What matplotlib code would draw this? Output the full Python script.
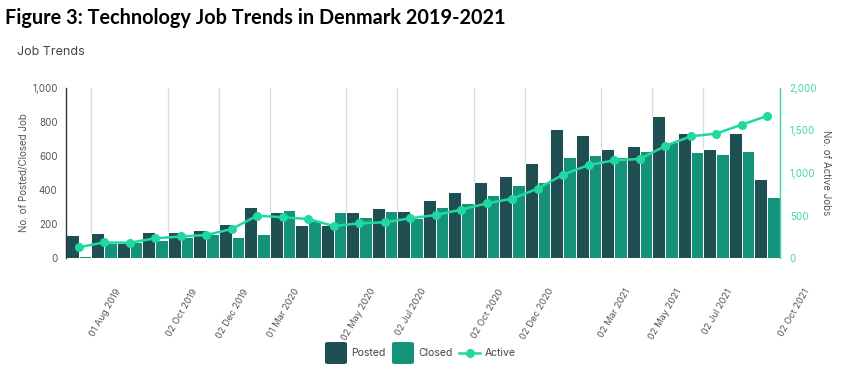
import matplotlib
matplotlib.use("Agg")
import matplotlib.pyplot as plt
from matplotlib.patches import FancyBboxPatch
from matplotlib.lines import Line2D
from matplotlib.transforms import ScaledTranslation
import numpy as np

# ---- data ----
posted = [138, 145, 87, 151, 151, 163, 198, 298, 268, 192, 192, 272, 292, 274,
          339, 386, 450, 483, 561, 761, 726, 643, 657, 833, 737, 641, 737, 463]
closed = [10, 90, 96, 108, 126, 143, 126, 144, 284, 219, 272, 241, 274, 236,
          300, 325, 368, 428, 445, 594, 606, 594, 629, 682, 626, 614, 629, 361]
active = [127, 183, 180, 232, 253, 271, 341, 498, 479, 459, 376, 408, 420, 467,
          506, 569, 643, 698, 816, 981, 1094, 1149, 1165, 1318, 1432, 1463, 1569, 1671]
tick_labels = ["01 Aug 2019", "02 Oct 2019", "02 Dec 2019", "01 Mar 2020",
               "02 May 2020", "02 Jul 2020", "02 Oct 2020", "02 Dec 2020",
               "02 Mar 2021", "02 May 2021", "02 Jul 2021", "02 Oct 2021"]
tick_band = [1, 4, 6, 8, 11, 13, 16, 18, 21, 23, 25, 28]

C_POST = "#1f4f52"
C_CLOSE = "#15937a"
C_ACT = "#20d8a0"
C_RAX = "#3dd6a8"
TXT = "#555555"
FONT = "Inter"

fig = plt.figure(figsize=(8.45, 3.74), dpi=100)
ax = fig.add_axes([66/845, 1-258/374, (780-66)/845, (258-88)/374])

x = np.arange(len(posted))
ax.bar(x - 0.25, posted, width=0.5, color=C_POST, edgecolor="white", linewidth=0.7, zorder=2)
ax.bar(x + 0.25, closed, width=0.5, color=C_CLOSE, edgecolor="white", linewidth=0.7, zorder=2)
ax.set_xlim(-0.5, len(posted) - 0.5)
ax.set_ylim(0, 1000)
ax.set_yticks([0, 200, 400, 600, 800, 1000])
ax.set_yticklabels(["0", "200", "400", "600", "800", "1,000"], fontsize=7, color=TXT, family=FONT)
ticks = [t - 0.5 for t in tick_band]
ax.set_xticks(ticks)
ax.set_xticklabels(tick_labels, rotation=60, ha="right", va="center",
                   rotation_mode="anchor", fontsize=6.7, color=TXT, family=FONT)
ax.tick_params(axis="x", length=0, pad=14)
off = ScaledTranslation(27/100, -12/100, fig.dpi_scale_trans)
for lab in ax.get_xticklabels():
    lab.set_transform(lab.get_transform() + off)
ax.tick_params(axis="y", length=0, pad=6)
ax.grid(axis="x", color="#dddddd", linewidth=1, zorder=0)
for s in ["top", "right", "bottom"]:
    ax.spines[s].set_visible(False)
ax.spines["left"].set_color("#333333")
ax.spines["left"].set_linewidth(1)
ax.set_ylabel("No. of Posted/Closed Job", fontsize=7, color=TXT, family=FONT, labelpad=2)

ax2 = ax.twinx()
ax2.plot(x, active, color=C_ACT, linewidth=1.8, marker="o", markersize=5.5, zorder=5)
ax2.set_ylim(0, 2000)
ax2.set_yticks([0, 500, 1000, 1500, 2000])
ax2.set_yticklabels(["0", "500", "1,000", "1,500", "2,000"], fontsize=7, color=C_RAX, family=FONT)
ax2.tick_params(axis="y", length=0, pad=7)
for s in ["top", "left", "bottom"]:
    ax2.spines[s].set_visible(False)
ax2.spines["right"].set_color(C_RAX)
ax2.spines["right"].set_linewidth(1)
ax2.set_ylabel("No. of Active Jobs", fontsize=7, color=TXT, family=FONT, rotation=-90, labelpad=10)

# titles
fig.text(5/845, 1-18/374, "Figure 3: Technology Job Trends in Denmark 2019-2021",
         fontsize=14.3, fontweight="bold", family="Lato", va="center", ha="left", color="black")
fig.text(17/845, 1-52/374, "Job Trends", fontsize=9, family=FONT, va="center", ha="left", color="#444444")

# legend
def sq(xpx, color):
    p = FancyBboxPatch((xpx/845, 1-364/374), 22/845, 22/374,
                       boxstyle="round,pad=0,rounding_size=0.004", transform=fig.transFigure,
                       facecolor=color, edgecolor="none")
    fig.patches.append(p)

sq(325, C_POST)
fig.text(351/845, 1-353/374, "Posted", fontsize=7.5, family=FONT, va="center", color="#444444")
sq(392, C_CLOSE)
fig.text(418/845, 1-353/374, "Closed", fontsize=7.5, family=FONT, va="center", color="#444444")
fig.add_artist(Line2D([459/845, 480/845], [1-353/374, 1-353/374], color=C_ACT, linewidth=1.8,
                      transform=fig.transFigure))
fig.add_artist(Line2D([470/845], [1-353/374], color=C_ACT, marker="o", markersize=5.5,
                      transform=fig.transFigure))
fig.text(485/845, 1-353/374, "Active", fontsize=7.5, family=FONT, va="center", color="#444444")

fig.savefig("out.png", dpi=100, facecolor="white")
